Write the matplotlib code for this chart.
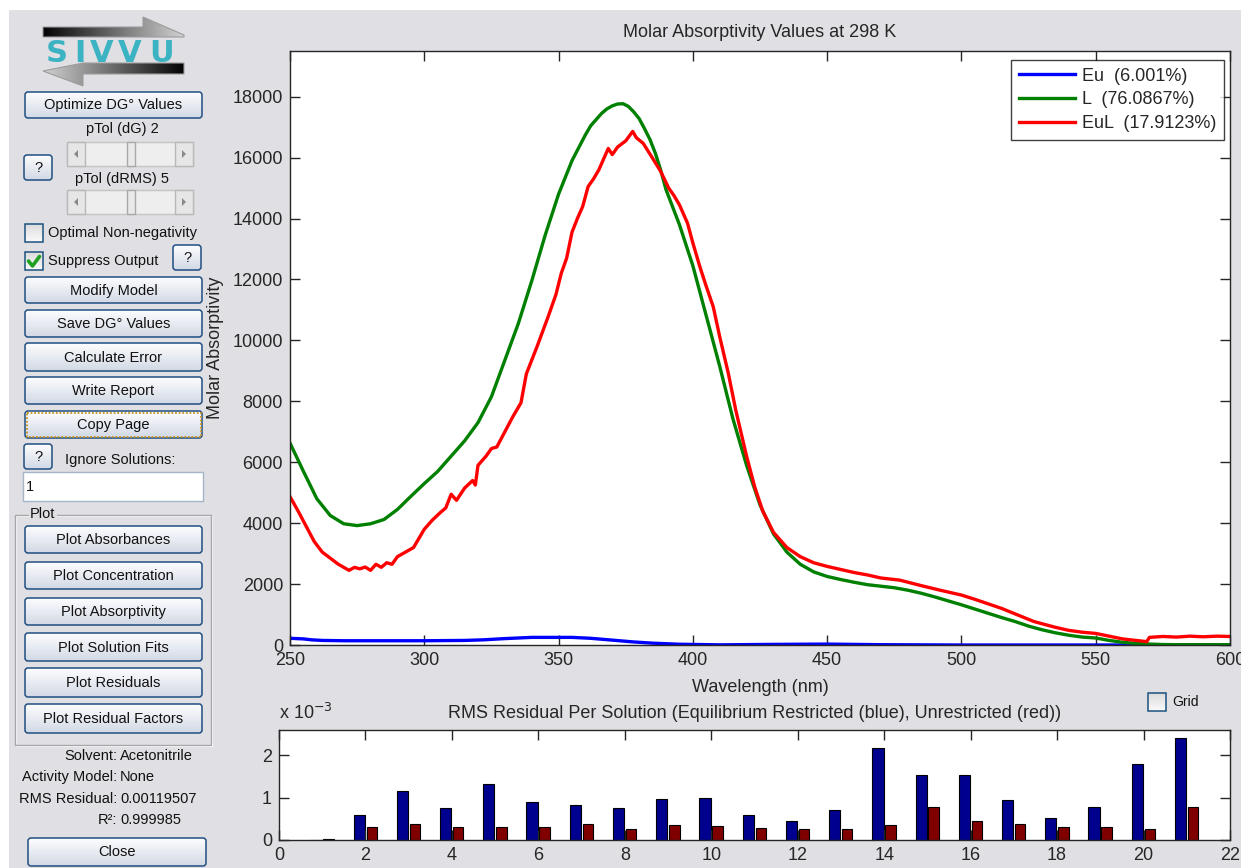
import numpy as np
import matplotlib
matplotlib.use('Agg')
import matplotlib.pyplot as plt
from matplotlib.patches import FancyBboxPatch, Rectangle, Polygon
from matplotlib.colors import to_rgb

plt.rcParams['font.family'] = ['Liberation Sans', 'DejaVu Sans']

# ---------------- data ----------------
blue_nm = [250, 255, 258, 262, 270, 300, 315, 322, 330, 340, 355, 362, 370, 378, 385, 395, 410, 430, 450, 470, 500, 600]
blue_eps = [220, 200, 170, 150, 140, 140, 150, 170, 210, 250, 250, 220, 160, 100, 60, 25, 5, 20, 30, 10, 0, 0]

green_nm = [250, 255, 260, 265, 270, 275, 280, 285, 290, 295, 300, 305, 310, 315, 320, 325, 330, 335,
            340, 345, 350, 355, 360, 362, 364, 366, 368, 370, 372, 374, 376, 378, 380, 382, 384, 386,
            388, 390, 395, 400, 405, 410, 415, 420, 425,
            430, 435, 440, 445, 450, 455, 460, 465, 470, 475, 480, 485, 490, 495, 500, 505, 510, 515,
            520, 525, 530, 535, 540, 545, 550, 555, 560, 565, 570, 575, 580, 590, 600]
green_eps = [6630, 5700, 4800, 4250, 3980, 3920, 3980, 4120, 4450, 4880, 5300, 5700, 6200, 6700,
             7300, 8150, 9350, 10550, 11950, 13450, 14800, 15900, 16750, 17050, 17250, 17450, 17600,
             17700, 17760, 17770, 17680, 17500, 17280, 16950, 16600, 16150, 15600, 14950, 13800,
             12450, 10800, 9150, 7400, 5900, 4600, 3650, 3050, 2650, 2400, 2250,
             2150, 2060, 1980, 1930, 1880, 1800, 1700, 1580, 1450, 1320, 1180, 1040, 900, 770, 620,
             500, 400, 320, 260, 230, 150, 90, 50, 30, 15, 10, 10, 10]

red_nm = [250, 253, 256, 259, 262, 265, 268, 270, 272, 274, 276, 278, 280, 282, 284, 286, 288, 290,
          293, 296, 298, 300, 303, 306, 308, 310, 312, 315, 318, 319, 320, 323, 325, 327, 330, 333,
          336, 338, 342, 346, 349, 351, 353, 355, 357, 359, 361, 363, 365, 367, 368.5, 370, 372, 375,
          377.6, 379, 381.5, 385, 388, 391, 393, 395, 398, 400, 402.6, 405, 407.6, 410, 413.2, 416,
          420, 423, 426, 430, 435, 440, 445, 450, 455, 460, 465, 470, 477, 485, 492, 500, 505, 510,
          515, 520, 527, 535, 540, 545, 550, 555, 560, 565, 569, 570, 575, 580, 585, 590, 595, 600]
red_eps = [4870, 4400, 3900, 3400, 3050, 2850, 2650, 2550, 2450, 2550, 2500, 2560, 2450, 2650, 2550,
           2700, 2650, 2900, 3050, 3200, 3500, 3800, 4100, 4350, 4500, 4950, 4750, 5150, 5400, 5250,
           5900, 6200, 6450, 6500, 7000, 7500, 7950, 8900, 9800, 10750, 11500, 12200, 12700, 13550,
           14000, 14400, 15050, 15300, 15600, 16000, 16300, 16100, 16350, 16550, 16860, 16650, 16470,
           15980, 15550, 15000, 14750, 14450, 13850, 13200, 12420, 11770, 11100, 10120, 8920, 7700,
           6200, 5200, 4400, 3700, 3200, 2900, 2700, 2580, 2480, 2380, 2300, 2200, 2130, 1950, 1800,
           1640, 1500, 1350, 1200, 1020, 770, 580, 480, 420, 380, 290, 200, 150, 110, 250, 280, 260,
           290, 270, 290, 280]

legend_labels = ['Eu  (6.001%)', 'L  (76.0867%)', 'EuL  (17.9123%)']

solutions = list(range(1, 22))
rms_restricted = [0.0, 0.60, 1.15, 0.75, 1.32, 0.90, 0.82, 0.75, 0.98, 1.00, 0.60, 0.46, 0.71,
                  2.18, 1.54, 1.54, 0.94, 0.52, 0.79, 1.79, 2.40]      # x 1e-3
rms_unrestricted = [0.03, 0.30, 0.38, 0.30, 0.30, 0.30, 0.38, 0.27, 0.36, 0.33, 0.28, 0.27, 0.27,
                    0.35, 0.77, 0.46, 0.38, 0.30, 0.30, 0.27, 0.77]    # x 1e-3

# ---------------- figure ----------------
W, H = 1241, 868
BG = '#E0DFE3'
fig = plt.figure(figsize=(W / 100, H / 100), dpi=100, facecolor=BG)

gui = fig.add_axes([0, 0, 1, 1])
gui.set_facecolor('none')
gui.axis('off')

GUI_FS = 10.5
TXT = '#111111'


def grad_fill(patch, x0, y0, x1, y1, c0, c1, horizontal=False, z=2):
    n = 48
    t = np.linspace(0, 1, n)
    a, b = np.array(to_rgb(c0)), np.array(to_rgb(c1))
    cols = a[None, :] * (1 - t[:, None]) + b[None, :] * t[:, None]
    img = cols[None, :, :] if horizontal else cols[:, None, :]
    im = gui.imshow(img, extent=(x0, x1, y1, y0), aspect='auto',
                    interpolation='bilinear', zorder=z)
    im.set_clip_path(patch)


def button(x0, y0, x1, y1, label, focus=False, fs=GUI_FS):
    p = FancyBboxPatch((x0, y0), x1 - x0, y1 - y0,
                       boxstyle='round,pad=0,rounding_size=3',
                       fc='none', ec='#1F4F82', lw=1.1, zorder=3)
    gui.add_patch(p)
    grad_fill(p, x0, y0, x1, y1, '#FDFDFE', '#D2D9E5', z=2)
    if focus:
        gui.add_patch(Rectangle((x0 + 1.5, y0 + 1.5), x1 - x0 - 3, y1 - y0 - 3, fc='none',
                                ec='#C8921E', lw=1.3, ls=(0, (1, 1)), zorder=3.5))
    gui.text((x0 + x1) / 2, (y0 + y1) / 2 + 0.5, label, ha='center', va='center',
             fontsize=fs, color=TXT, zorder=4)


def checkbox(x0, y0, label, checked=False, fs=GUI_FS, tx=None):
    p = Rectangle((x0, y0), 18, 18, fc='none', ec='#1C5180', lw=1.1, zorder=3)
    gui.add_patch(p)
    grad_fill(p, x0, y0, x0 + 18, y0 + 18, '#DCDCDC', '#FAFAFA', z=2)
    if checked:
        gui.plot([x0 + 3.5, x0 + 7.5, x0 + 14.5], [y0 + 9, y0 + 14, y0 + 4.5],
                 color='#21A121', lw=2.6, solid_capstyle='round', zorder=4)
    gui.text(x0 + 23 if tx is None else tx, y0 + 9.5, label, ha='left', va='center',
             fontsize=fs, color=TXT, zorder=4)


def slider(y0):
    x0, x1, h = 67, 193, 24
    gui.add_patch(Rectangle((x0, y0), x1 - x0, h, fc='#EEEEEE', ec='#C4C4C4', lw=1, zorder=2))
    for bx_ in (x0, x1 - 18):
        gui.add_patch(Rectangle((bx_, y0), 18, h, fc='#E6E6E6', ec='#B8B8B8', lw=1, zorder=3))
    cy = y0 + h / 2
    gui.add_patch(Polygon([(x0 + 7, cy), (x0 + 11, cy - 4), (x0 + 11, cy + 4)], closed=True,
                          fc='#8A8A8A', ec='none', zorder=4))
    gui.add_patch(Polygon([(x1 - 7, cy), (x1 - 11, cy - 4), (x1 - 11, cy + 4)], closed=True,
                          fc='#8A8A8A', ec='none', zorder=4))
    gui.add_patch(Rectangle((127, y0), 8, h, fc='#E9E9E9', ec='#A9A9A9', lw=1, zorder=3))


# white screenshot border
gui.add_patch(Rectangle((0, 0), W, 10, fc='white', ec='none', zorder=1))
gui.add_patch(Rectangle((0, 0), 9, H, fc='white', ec='none', zorder=1))

# logo
top_arrow = Polygon([(43, 27), (143, 27), (143, 17), (184, 35), (184, 37), (43, 37)],
                    closed=True, fc='none', ec='#9C9C9C', lw=0.8, zorder=3)
gui.add_patch(top_arrow)
grad_fill(top_arrow, 43, 15, 184, 38, '#050505', '#D0D0D0', horizontal=True)
bot_arrow = Polygon([(43, 71), (83, 63), (184, 63), (184, 74), (83, 74), (83, 86)],
                    closed=True, fc='none', ec='#9C9C9C', lw=0.8, zorder=3)
gui.add_patch(bot_arrow)
grad_fill(bot_arrow, 43, 62, 184, 87, '#D0D0D0', '#050505', horizontal=True)
for ch, cx in zip('SIVVU', [57, 80, 102, 130, 162]):
    gui.text(cx, 62, ch, ha='center', va='baseline', fontsize=22, fontweight='bold',
             color='#3BB3C3', family='DejaVu Sans', zorder=5)

# controls
button(25, 92, 202, 118, 'Optimize DG° Values')
gui.text(122, 129, 'pTol (dG) 2', ha='center', va='center', fontsize=GUI_FS, color=TXT)
slider(142)
button(24, 155, 52, 180, '?')
gui.text(122, 179, 'pTol (dRMS) 5', ha='center', va='center', fontsize=GUI_FS, color=TXT)
slider(190)
checkbox(25, 224, 'Optimal Non-negativity')
checkbox(25, 252, 'Suppress Output', checked=True)
button(173, 245, 201, 270, '?')
button(25, 277, 202, 303, 'Modify Model')
button(25, 310, 202, 337, 'Save DG° Values')
button(25, 343, 202, 371, 'Calculate Error')
button(25, 377, 202, 404, 'Write Report')
button(25, 411, 202, 438, 'Copy Page', focus=True)
button(24, 444, 52, 469, '?')
gui.text(65, 460, 'Ignore Solutions:', ha='left', va='center', fontsize=GUI_FS, color=TXT)
gui.add_patch(Rectangle((23, 472), 180, 29, fc='white', ec='#A5B5C8', lw=1, zorder=2))
gui.text(26, 487, '1', ha='left', va='center', fontsize=GUI_FS, color=TXT, zorder=3)

# plot panel
gui.add_patch(Rectangle((15, 515), 196, 230, fc='none', ec='#A6A5AA', lw=1, zorder=2))
gui.add_patch(Rectangle((16, 516), 196, 230, fc='none', ec='white', lw=0.8, zorder=1.9))
gui.text(30, 514, 'Plot', ha='left', va='center', fontsize=GUI_FS, color=TXT, zorder=4,
         bbox=dict(fc=BG, ec='none', pad=1))
for (y0, y1), lab in zip([(526, 553), (562, 589), (598, 625), (633, 661), (668, 697), (704, 733)],
                         ['Plot Absorbances', 'Plot Concentration', 'Plot Absorptivity',
                          'Plot Solution Fits', 'Plot Residuals', 'Plot Residual Factors']):
    button(25, y0, 202, y1, lab)

for y, lab, val in [(756, 'Solvent:', 'Acetonitrile'), (777, 'Activity Model:', 'None'),
                    (799, 'RMS Residual:', '0.00119507'), (820, 'R²:', '0.999985')]:
    gui.text(117, y, lab, ha='right', va='center', fontsize=GUI_FS, color=TXT)
    gui.text(120, y, val, ha='left', va='center', fontsize=GUI_FS, color=TXT)
button(28, 838, 206, 866, 'Close')

checkbox(1148, 693, 'Grid', fs=10, tx=1172)

gui.set_xlim(0, W)
gui.set_ylim(H, 0)

# ---------------- main axes ----------------
TC = '#262626'
ax = fig.add_axes([290 / W, 1 - 645 / H, 940 / W, 594 / H])
ax.plot(blue_nm, blue_eps, color=(0, 0, 1), lw=2.4, label=legend_labels[0])
ax.plot(green_nm, green_eps, color=(0, 0.5, 0), lw=2.4, label=legend_labels[1])
ax.plot(red_nm, red_eps, color=(1, 0, 0), lw=2.4, label=legend_labels[2])
ax.set_xlim(250, 600)
ax.set_ylim(0, 19500)
ax.set_xticks(np.arange(250, 601, 50))
ax.set_yticks(np.arange(0, 18001, 2000))
ax.tick_params(direction='in', top=True, right=True, length=7, width=1, labelsize=13,
               colors=TC, pad=5)
for s in ax.spines.values():
    s.set_color(TC)
    s.set_linewidth(1)
ax.set_title('Molar Absorptivity Values at 298 K', fontsize=13, color=TC, pad=10)
ax.set_xlabel('Wavelength (nm)', fontsize=13, color=TC, labelpad=7)
ax.set_ylabel('Molar Absorptivity', fontsize=13, color=TC, labelpad=6)
leg = ax.legend(loc='upper right', bbox_to_anchor=(1 - 6 / 940, 1 - 9 / 594), borderaxespad=0,
                fontsize=13, frameon=True, fancybox=False, handlelength=3.1,
                handletextpad=0.4, labelspacing=0.38, borderpad=0.42)
leg.get_frame().set_edgecolor('#111111')
leg.get_frame().set_linewidth(1)
for t in leg.get_texts():
    t.set_color(TC)

# ---------------- residual axes ----------------
bx = fig.add_axes([279 / W, 1 - 840 / H, 951 / W, 110 / H])
xs = np.array(solutions, dtype=float)
bx.bar(xs - 0.145, rms_restricted, width=0.26, color='#00008F', edgecolor='black', lw=0.8)
bx.bar(xs + 0.145, rms_unrestricted, width=0.24, color='#800000', edgecolor='black', lw=0.8)
bx.set_xlim(0, 22)
bx.set_ylim(0, 2.6)
bx.set_xticks(np.arange(0, 23, 2))
bx.set_yticks([0, 1, 2])
bx.tick_params(direction='in', top=True, right=True, length=7, width=1, labelsize=13,
               colors=TC, pad=5)
for s in bx.spines.values():
    s.set_color(TC)
    s.set_linewidth(1)
bx.set_title('RMS Residual Per Solution (Equilibrium Restricted (blue), Unrestricted (red))',
             fontsize=13, color=TC, pad=9)
bx.text(0, 1.06, 'x 10$^{-3}$', transform=bx.transAxes, ha='left', va='bottom', fontsize=13,
        color=TC)

fig.savefig('out.png', dpi=100, facecolor=BG)
